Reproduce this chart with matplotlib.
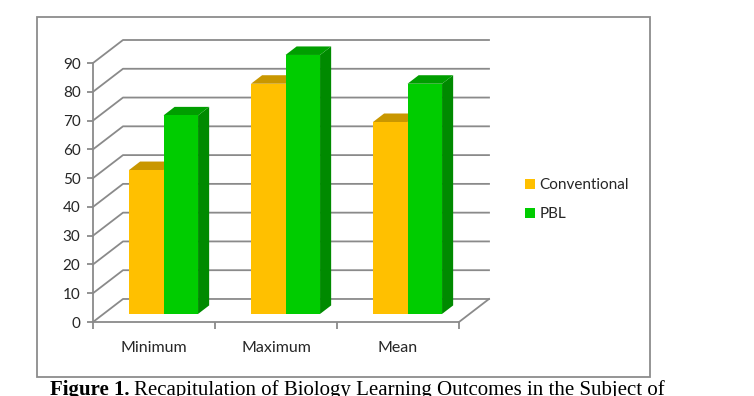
import matplotlib
matplotlib.use('Agg')
import matplotlib.pyplot as plt
from matplotlib.patches import Polygon, Rectangle, Patch
import numpy as np

categories = ['Minimum', 'Maximum', 'Mean']
series = ['Conventional', 'PBL']
conventional = [50, 80, 66.7]
pbl = [69, 90, 80]
yticks = [0, 10, 20, 30, 40, 50, 60, 70, 80, 90]

W, H = 754, 396
front_col = ['#FFC000', '#00CC00']
top_col = ['#C99700', '#009E00']
side_col = ['#B08400', '#008A00']
grid_col = '#8A8A8A'
txt_col = '#262626'

fig = plt.figure(figsize=(W / 100, H / 100), dpi=100)

# outer chart box
fig.patches.append(Rectangle((37 / W, 1 - 377 / H), (650 - 37) / W, (377 - 17) / H,
                             transform=fig.transFigure, fill=False,
                             edgecolor='#8C8C8C', linewidth=1.3))

# depth offset of the 3d look (in data units)
DX = 30 / 122.0
DY = 8.0
ymax = 90

ax = fig.add_axes([93 / W, 1 - 322 / H, (489 - 93) / W, 282 / H])
ax.set_xlim(0, 3 + DX)
ax.set_ylim(0, ymax + DY)
ax.patch.set_visible(False)
for s in ['top', 'right']:
    ax.spines[s].set_visible(False)
ax.spines['left'].set_bounds(0, ymax)
ax.spines['bottom'].set_bounds(0, 3)
for s in ['left', 'bottom']:
    ax.spines[s].set_color(grid_col)
    ax.spines[s].set_linewidth(1.3)

# walls and floor
for v in yticks:
    ax.plot([0, DX, 3 + DX], [v, v + DY, v + DY], color=grid_col, lw=1.3, zorder=1,
            clip_on=False)
ax.plot([3, 3 + DX], [0, DY], color=grid_col, lw=1.3, zorder=1, clip_on=False)

# bars
bw = 0.283
start = 0.209
f0, f1 = 0.35, 0.72
for j, vals in enumerate([conventional, pbl]):
    for i, v in enumerate(vals):
        x0 = i + start + j * bw
        xa, ya = x0 + f0 * DX, f0 * DY
        xb, yb = x0 + f1 * DX, f1 * DY
        ax.add_patch(Polygon([(xa + bw, ya), (xb + bw, yb), (xb + bw, yb + v), (xa + bw, ya + v)],
                             closed=True, facecolor=side_col[j], edgecolor='none', zorder=2 + j))
        ax.add_patch(Polygon([(xa, ya + v), (xa + bw, ya + v), (xb + bw, yb + v), (xb, yb + v)],
                             closed=True, facecolor=top_col[j], edgecolor='none', zorder=2 + j))
        ax.add_patch(Rectangle((xa, ya), bw, v, facecolor=front_col[j], edgecolor='none',
                               zorder=2 + j))

font = 'Lato'
ax.set_yticks(yticks)
ax.set_yticklabels([str(t) for t in yticks], fontsize=11, family=font, color=txt_col)
ax.tick_params(axis='y', length=4, width=1.3, color=grid_col, pad=5)
ax.set_xticks([0.5, 1.5, 2.5])
ax.set_xticklabels(categories, fontsize=11.5, family=font, color=txt_col)
ax.set_xticks([0, 1, 2, 3], minor=True)
ax.tick_params(axis='x', which='major', length=0, pad=14)
ax.tick_params(axis='x', which='minor', length=5, width=1.3, color=grid_col, direction='out')

handles = [Patch(facecolor=front_col[k], edgecolor='none') for k in range(2)]
fig.legend(handles, series, loc='upper left', bbox_to_anchor=(525 / W, 1 - 178 / H),
           frameon=False, borderpad=0, borderaxespad=0, handlelength=0.65, handleheight=0.65,
           handletextpad=0.3, labelspacing=1.0,
           prop={'family': font, 'size': 11}, labelcolor=txt_col)

# caption, cut at the bottom edge like the source
t1 = fig.text(50 / W, 1.5 / H, 'Figure 1.', family='Liberation Serif', fontweight='bold',
              fontsize=15, va='baseline', ha='left', color='black')
fig.canvas.draw()
bb = t1.get_window_extent(fig.canvas.get_renderer())
fig.text(bb.x1 / W + 5 / W, 1.5 / H,
         'Recapitulation of Biology Learning Outcomes in the Subject of',
         family='Liberation Serif', fontsize=15, va='baseline', ha='left', color='black')

fig.savefig('out.png', dpi=100)
